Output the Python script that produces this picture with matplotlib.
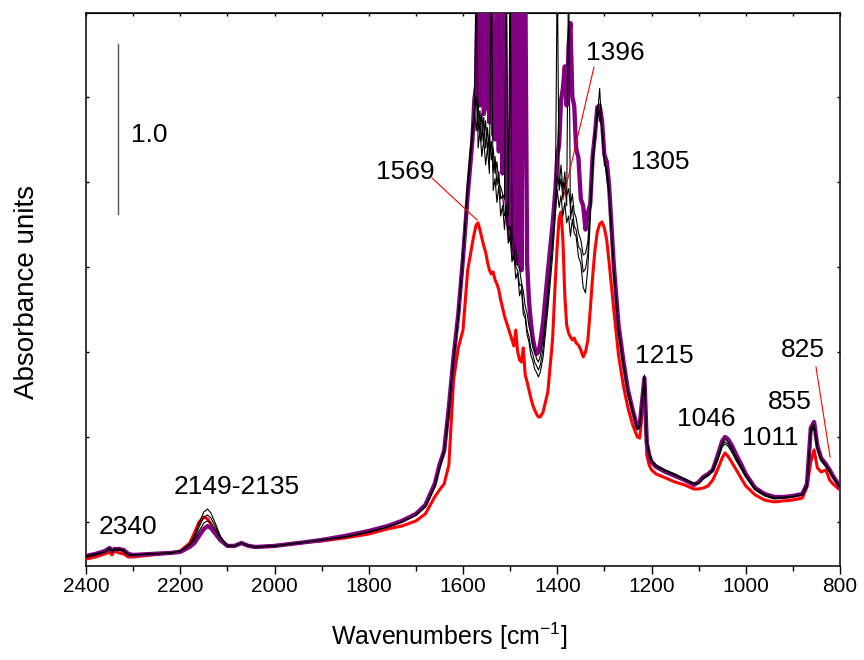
import matplotlib
matplotlib.use("Agg")
import matplotlib.pyplot as plt
from matplotlib.ticker import MultipleLocator
from matplotlib import font_manager

# ---------------- data (wavenumber grid and absorbance of each spectrum) ----------------
SAT = 3.3  # readings saturated above the top of the frame

wavenumber = [
    2400, 2380, 2360, 2350, 2345, 2340, 2330, 2320, 2310, 2300,
    2260, 2220, 2200, 2180, 2170, 2160, 2150, 2142, 2135, 2125,
    2115, 2100, 2085, 2070, 2055, 2040, 2000, 1950, 1900, 1850,
    1800, 1760, 1730, 1700, 1680, 1660, 1650, 1640, 1630, 1620,
    1610, 1600, 1590, 1580, 1576, 1572, 1568, 1564, 1560, 1556,
    1552, 1548, 1544, 1540, 1536, 1532, 1528, 1524, 1520, 1516,
    1512, 1508, 1504, 1500, 1496, 1492, 1488, 1484, 1480, 1476,
    1472, 1468, 1464, 1460, 1456, 1452, 1448, 1444, 1440, 1436,
    1430, 1420, 1410, 1404, 1400, 1396, 1392, 1388, 1384, 1380,
    1376, 1372, 1368, 1364, 1360, 1355, 1350, 1345, 1340, 1335,
    1330, 1325, 1320, 1315, 1310, 1305, 1300, 1295, 1290, 1280,
    1270, 1260, 1250, 1240, 1230, 1225, 1220, 1215, 1210, 1205,
    1200, 1190, 1170, 1150, 1130, 1110, 1100, 1090, 1080, 1070,
    1060, 1050, 1044, 1038, 1030, 1020, 1010, 1000, 980, 960,
    940, 920, 900, 880, 870, 862, 855, 848, 840, 830,
    822, 815, 800,
]

red_spectrum = [
    -0.218, -0.206, -0.188, -0.176, -0.194, -0.171, -0.182, -0.188, -0.206, -0.206,
    -0.194, -0.182, -0.171, -0.124, -0.065, 0.000, 0.029, 0.018, -0.012, -0.059,
    -0.106, -0.141, -0.141, -0.124, -0.141, -0.147, -0.141, -0.124, -0.112, -0.094,
    -0.071, -0.041, -0.024, 0.006, 0.047, 0.147, 0.188, 0.224, 0.335, 0.835,
    1.024, 1.129, 1.482, 1.641, 1.700, 1.747, 1.759, 1.718, 1.671, 1.624,
    1.588, 1.529, 1.482, 1.459, 1.471, 1.424, 1.400, 1.365, 1.306, 1.259,
    1.212, 1.176, 1.141, 1.106, 1.071, 1.035, 1.129, 1.000, 0.953, 0.941,
    1.024, 0.865, 0.824, 0.776, 0.729, 0.688, 0.659, 0.635, 0.618, 0.618,
    0.647, 0.765, 1.071, 1.424, 1.629, 1.788, 1.824, 1.659, 1.335, 1.159,
    1.112, 1.088, 1.071, 1.082, 1.053, 1.041, 1.012, 0.971, 1.000, 1.071,
    1.247, 1.441, 1.600, 1.706, 1.753, 1.765, 1.729, 1.659, 1.529, 1.247,
    0.982, 0.806, 0.671, 0.571, 0.500, 0.494, 0.629, 0.824, 0.394, 0.335,
    0.306, 0.282, 0.259, 0.235, 0.218, 0.194, 0.194, 0.200, 0.212, 0.247,
    0.306, 0.376, 0.406, 0.388, 0.353, 0.306, 0.259, 0.212, 0.159, 0.129,
    0.118, 0.124, 0.129, 0.141, 0.206, 0.353, 0.424, 0.318, 0.294, 0.306,
    0.247, 0.224, 0.188,
]

purple_spectrum = [
    -0.200, -0.188, -0.171, -0.153, -0.171, -0.159, -0.159, -0.165, -0.188, -0.194,
    -0.188, -0.182, -0.176, -0.147, -0.124, -0.082, -0.041, -0.024, -0.035, -0.071,
    -0.106, -0.141, -0.141, -0.124, -0.141, -0.147, -0.141, -0.124, -0.106, -0.082,
    -0.053, -0.024, 0.006, 0.047, 0.100, 0.224, 0.335, 0.418, 0.676, 0.971,
    1.224, 1.553, 1.924, 2.247, 2.482, 2.571, SAT, 2.45, SAT, 2.40,
    2.45, SAT, 2.35, SAT, 2.28, 2.25, SAT, 2.18, SAT, 2.05,
    SAT, 1.90, 1.75, 1.66, SAT, 1.55, SAT, 1.52, SAT, 1.48,
    SAT, SAT, 1.53, 1.30, 1.176, 1.082, 1.024, 0.988, 1.000, 1.053,
    1.176, 1.471, 1.747, 1.953, 2.15, 2.22, 2.48, 2.55, 2.68, 2.45,
    2.80, 2.935, 2.50, 2.45, 2.20, 2.14, 1.90, 1.86, 1.72, 1.82,
    1.87, 2.15, 2.28, 2.44, 2.45, 2.36, 2.16, 2.12, 1.98, 1.512,
    1.159, 0.953, 0.776, 0.659, 0.553, 0.571, 0.706, 0.847, 0.465, 0.394,
    0.353, 0.324, 0.294, 0.271, 0.247, 0.218, 0.235, 0.265, 0.282, 0.306,
    0.388, 0.476, 0.500, 0.488, 0.453, 0.394, 0.341, 0.282, 0.200, 0.165,
    0.147, 0.147, 0.153, 0.165, 0.224, 0.553, 0.588, 0.447, 0.376, 0.341,
    0.306, 0.271, 0.206,
]

black_spectrum_1 = [
    -0.206, -0.194, -0.176, -0.159, -0.171, -0.165, -0.165, -0.171, -0.194, -0.194,
    -0.188, -0.182, -0.171, -0.135, -0.106, -0.053, -0.006, 0.006, -0.006, -0.047,
    -0.094, -0.141, -0.141, -0.124, -0.141, -0.147, -0.141, -0.124, -0.106, -0.088,
    -0.059, -0.029, 0.000, 0.041, 0.088, 0.206, 0.312, 0.406, 0.641, 0.953,
    1.200, 1.553, 2.012, 2.335, 2.365, SAT, 2.20, 2.30, 2.15, 2.25,
    2.10, 2.20, 2.05, SAT, 1.95, 2.02, 1.88, 1.98, 1.80, 1.86,
    1.72, 1.87, 1.64, 1.68, 1.53, 1.58, 1.43, 1.47, 1.33, 1.37,
    1.22, 1.20, 1.10, 1.06, 0.98, 0.95, 0.90, 0.88, 0.853, 0.882,
    0.97, 1.25, 1.56, 1.806, 1.953, 1.85, 1.92, 1.80, 1.88, 1.76,
    1.80, 1.68, 1.78, 1.70, 1.68, 1.56, 1.52, 1.38, 1.347, 1.50,
    1.776, 2.05, 2.28, 2.38, 2.55, 2.30, 2.15, 2.02, 1.924, 1.471,
    1.112, 0.929, 0.753, 0.647, 0.541, 0.559, 0.706, 0.865, 0.482, 0.412,
    0.365, 0.335, 0.306, 0.282, 0.253, 0.229, 0.229, 0.253, 0.271, 0.300,
    0.359, 0.441, 0.459, 0.447, 0.412, 0.359, 0.312, 0.265, 0.188, 0.153,
    0.135, 0.141, 0.147, 0.159, 0.206, 0.529, 0.553, 0.424, 0.359, 0.324,
    0.294, 0.259, 0.206,
]

black_spectrum_2 = [
    -0.200, -0.188, -0.176, -0.153, -0.171, -0.165, -0.159, -0.171, -0.194, -0.194,
    -0.188, -0.182, -0.171, -0.135, -0.094, -0.029, 0.029, 0.041, 0.024, -0.029,
    -0.088, -0.141, -0.141, -0.124, -0.141, -0.147, -0.141, -0.124, -0.106, -0.088,
    -0.059, -0.029, 0.000, 0.041, 0.088, 0.206, 0.318, 0.412, 0.653, 0.959,
    1.206, 1.559, 1.982, 2.294, 2.424, 2.50, 2.30, 2.42, 2.24, 2.38,
    2.20, 2.32, 2.15, 2.24, 2.06, 2.15, 1.98, 2.06, 1.90, 1.92,
    1.80, 1.84, 1.72, 1.74, 1.60, 1.60, 1.50, 1.48, 1.39, 1.40,
    1.26, 1.22, 1.13, 1.09, 1.02, 0.99, 0.94, 0.92, 0.894, 0.924,
    1.02, 1.30, 1.63, 1.865, SAT, 1.95, 2.02, 1.90, 2.00, 1.86,
    SAT, 1.78, 1.86, 1.74, 1.72, 1.62, 1.60, 1.47, 1.49, 1.58,
    1.835, 2.10, 2.26, 2.40, 2.42, 2.32, 2.10, 2.07, 1.941, 1.482,
    1.124, 0.935, 0.765, 0.653, 0.547, 0.565, 0.706, 0.859, 0.471, 0.406,
    0.359, 0.329, 0.300, 0.276, 0.250, 0.224, 0.226, 0.259, 0.276, 0.306,
    0.371, 0.453, 0.471, 0.459, 0.424, 0.371, 0.324, 0.271, 0.194, 0.159,
    0.141, 0.144, 0.150, 0.162, 0.212, 0.541, 0.565, 0.435, 0.365, 0.329,
    0.300, 0.265, 0.206,
]

black_spectrum_3 = [
    -0.200, -0.188, -0.176, -0.153, -0.171, -0.159, -0.159, -0.165, -0.194, -0.194,
    -0.188, -0.182, -0.171, -0.129, -0.082, -0.006, 0.059, 0.076, 0.053, -0.012,
    -0.082, -0.141, -0.141, -0.124, -0.141, -0.147, -0.141, -0.124, -0.106, -0.088,
    -0.059, -0.029, 0.000, 0.041, 0.094, 0.212, 0.324, 0.418, 0.665, 0.965,
    1.212, 1.565, 1.953, 2.259, 2.412, 2.30, 2.46, 2.28, 2.40, 2.24,
    2.36, 2.19, 2.28, 2.13, 2.20, 2.05, 2.12, 1.99, 1.97, 1.93,
    1.90, SAT, 1.80, SAT, 1.69, 1.63, 1.60, 1.51, 1.49, 1.41,
    1.36, 1.27, 1.23, 1.15, 1.11, 1.03, 1.01, 0.96, 0.941, 0.976,
    1.07, 1.34, 1.65, 1.894, 2.041, 1.98, 2.10, 1.95, 2.06, 1.92,
    1.96, 1.86, 1.93, 1.82, 1.79, 1.70, 1.66, 1.57, 1.58, 1.65,
    1.865, 2.14, 2.30, 2.44, 2.36, 2.33, 2.12, 2.08, 1.953, 1.494,
    1.135, 0.941, 0.771, 0.659, 0.550, 0.568, 0.706, 0.853, 0.468, 0.400,
    0.356, 0.326, 0.297, 0.274, 0.249, 0.221, 0.228, 0.262, 0.279, 0.312,
    0.382, 0.465, 0.488, 0.474, 0.438, 0.382, 0.332, 0.276, 0.197, 0.162,
    0.144, 0.146, 0.151, 0.163, 0.218, 0.547, 0.576, 0.441, 0.371, 0.335,
    0.303, 0.268, 0.206,
]

x_tick_values = [2400, 2200, 2000, 1800, 1600, 1400, 1200, 1000, 800]
x_tick_labels = ["2400", "2200", "2000", "1800", "1600", "1400", "1200", "1000", "800"]

# ---------------- fonts ----------------
available = {f.name for f in font_manager.fontManager.ttflist}
NARROW = "Liberation Sans Narrow" if "Liberation Sans Narrow" in available else "Liberation Sans"
REG = "Liberation Sans"
plt.rcParams["font.family"] = [REG, "DejaVu Sans"]
plt.rcParams["mathtext.default"] = "regular"

W, H = 864, 660
fig = plt.figure(figsize=(W / 100, H / 100), dpi=100)
L, R, T, B = 86, 840, 13, 566
ax = fig.add_axes([L / W, 1 - B / H, (R - L) / W, (B - T) / H])

ax.plot(wavenumber, red_spectrum, color="#ff0000", lw=2.2, zorder=3, solid_joinstyle="round")
ax.plot(wavenumber, purple_spectrum, color="#800080", lw=3.1, zorder=4, solid_joinstyle="round")
for b in (black_spectrum_1, black_spectrum_2, black_spectrum_3):
    ax.plot(wavenumber, b, color="black", lw=0.8, zorder=5)

ax.set_xlim(2400, 800)
ax.set_ylim(-0.259, 2.994)

for s in ax.spines.values():
    s.set_linewidth(1.1)

# bottom x axis: outward ticks with labels
ax.set_xticks(x_tick_values)
ax.set_xticklabels(x_tick_labels, family=[NARROW, REG], fontsize=15)
ax.xaxis.set_minor_locator(MultipleLocator(100))
ax.tick_params(axis="x", which="major", direction="out", length=6, width=1.0, pad=2, top=False)
ax.tick_params(axis="x", which="minor", direction="out", length=3.5, width=1.0, top=False)

# top axis: short inward ticks
top = ax.secondary_xaxis("top")
top.set_xticks(list(range(2400, 799, -100)))
top.tick_params(direction="in", length=2.5, width=1.0, labeltop=False)
top.set_xticklabels([])

# y axis: inward ticks both sides, no labels
ax.yaxis.set_major_locator(MultipleLocator(0.5))
ax.tick_params(axis="y", which="major", direction="in", length=2.5, width=1.0,
               left=True, right=True, labelleft=False)

# axis titles
fig.text(449 / W, 1 - 636 / H, "Wavenumbers [cm$^{-1}$]", ha="center", va="center",
         fontsize=18, family=[NARROW, REG])
fig.text(27 / W, 1 - 292 / H, "Absorbance units", ha="center", va="center",
         rotation=90, fontsize=20, family=[NARROW, REG])

# scale bar
ax.plot([2332, 2332], [1.81, 2.81], color="#555555", lw=1.0, zorder=6)
ax.text(2305, 2.276, "1.0", ha="left", va="center", fontsize=19)

# peak annotations
ann_fs = 19
ax.text(1723, 2.06, "1569", ha="center", va="center", fontsize=ann_fs)
ax.plot([1666, 1570], [2.024, 1.776], color="#ff0000", lw=0.8, zorder=7)
ax.text(1277, 2.759, "1396", ha="center", va="center", fontsize=ann_fs)
ax.plot([1322, 1388], [2.676, 1.894], color="#ff0000", lw=0.8, zorder=7)
ax.text(1182, 2.118, "1305", ha="center", va="center", fontsize=ann_fs)
ax.text(1173, 0.976, "1215", ha="center", va="center", fontsize=ann_fs)
ax.text(1084, 0.606, "1046", ha="center", va="center", fontsize=ann_fs)
ax.text(949, 0.494, "1011", ha="center", va="center", fontsize=ann_fs)
ax.text(906, 0.706, "855", ha="center", va="center", fontsize=ann_fs)
ax.text(879, 1.012, "825", ha="center", va="center", fontsize=ann_fs)
ax.plot([851, 821], [0.912, 0.382], color="#ff0000", lw=0.8, zorder=7)
ax.text(2311, -0.029, "2340", ha="center", va="center", fontsize=ann_fs)
ax.text(2080, 0.206, "2149-2135", ha="center", va="center", fontsize=ann_fs)

fig.savefig("out.png", dpi=100)
